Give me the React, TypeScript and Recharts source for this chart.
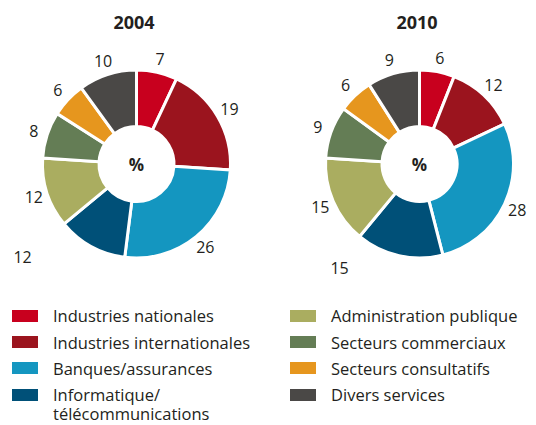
import { PieChart, Pie, Cell } from "recharts"

const categories = [
  "Industries nationales",
  "Industries internationales",
  "Banques/assurances",
  "Informatique/\ntélécommunications",
  "Administration publique",
  "Secteurs commerciaux",
  "Secteurs consultatifs",
  "Divers services",
]
const colors = ["#c8001e", "#9b141e", "#1496c0", "#005078", "#aaad60", "#647d55", "#e6961e", "#4a4846"]
const years = ["2004", "2010"]
const values2004 = [7, 19, 26, 12, 12, 8, 6, 10]
const values2010 = [6, 12, 28, 15, 15, 9, 6, 9]

const FONT = "'Open Sans', sans-serif"
const TEXT = "#231f20"
const RAD = Math.PI / 180

// the reference pushes the Informatique label off its slice, so copy that
const nudges = [
  { index: 3, angle: 22, radius: 147 },
  { index: 3, angle: 25, radius: 131 },
]

const toData = (values: number[]) => values.map((v, i) => ({ name: categories[i], value: v }))

function makeLabel(nudge: { index: number; angle: number; radius: number }) {
  return (props: any) => {
    const { cx, cy, midAngle, outerRadius, value, index } = props
    let r = outerRadius + 14
    let a = midAngle
    if (index === nudge.index) {
      r = nudge.radius
      a = midAngle - nudge.angle
    }
    const x = cx + r * Math.cos(-a * RAD)
    const y = cy + r * Math.sin(-a * RAD)
    return (
      <text x={x} y={y} textAnchor="middle" dominantBaseline="central" fontSize={16} fill={TEXT} fontFamily={FONT}>
        {value}
      </text>
    )
  }
}

const centers = [136.5, 419.5]
const CY = 164

export default function App() {
  const series = [values2004, values2010]
  return (
    <div style={{ position: "absolute", left: 0, top: 0, width: 536, height: 425, background: "#fff", fontFamily: FONT, color: TEXT, overflow: "hidden" }}>
      {years.map((y, i) => (
        <div
          key={y}
          style={{ position: "absolute", left: centers[i] - 2.5 - 50, width: 100, top: 10, textAlign: "center", fontSize: 18, fontWeight: 700, lineHeight: "24px" }}
        >
          {y}
        </div>
      ))}
      <div style={{ position: "absolute", left: 0, top: 0 }}>
        <PieChart width={536} height={290} margin={{ top: 0, right: 0, bottom: 0, left: 0 }}>
          {series.map((vals, i) => (
            <Pie
              key={years[i]}
              data={toData(vals)}
              dataKey="value"
              cx={centers[i]}
              cy={CY}
              innerRadius={37.5}
              outerRadius={94}
              startAngle={90}
              endAngle={-270}
              stroke="#fff"
              strokeWidth={3}
              label={makeLabel(nudges[i])}
              labelLine={false}
              isAnimationActive={false}
            >
              {vals.map((_, j) => (
                <Cell key={j} fill={colors[j]} />
              ))}
            </Pie>
          ))}
        </PieChart>
      </div>
      {centers.map((cx) => (
        <div
          key={cx}
          style={{ position: "absolute", left: cx - 20, width: 40, top: CY - 10, textAlign: "center", fontSize: 17, fontWeight: 700, lineHeight: "22px" }}
        >
          %
        </div>
      ))}
      {categories.map((c, i) => {
        const col = Math.floor(i / 4)
        const row = i % 4
        const mid = 315.8 + row * 26.3
        return (
          <div key={c}>
            <div style={{ position: "absolute", left: col ? 290 : 12, top: mid - 6, width: 26, height: 12, background: colors[i] }} />
            <div
              style={{ position: "absolute", left: col ? 331 : 53, top: mid - 9.5, fontSize: 16.5, lineHeight: "19px", whiteSpace: "pre" }}
            >
              {c}
            </div>
          </div>
        )
      })}
    </div>
  )
}
